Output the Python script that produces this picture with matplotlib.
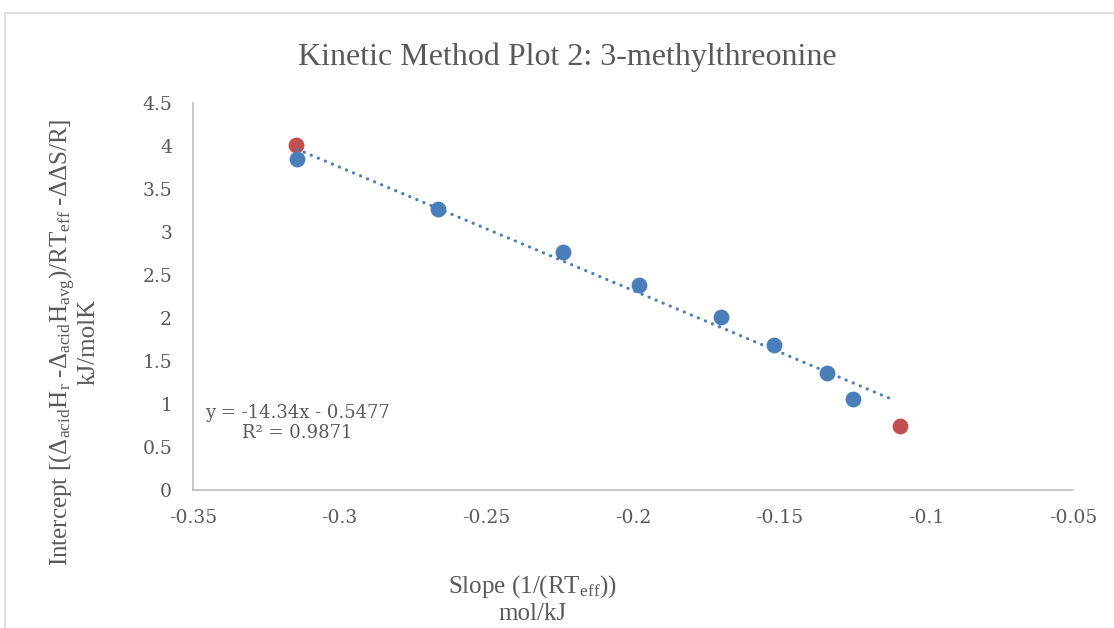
import numpy as np
import matplotlib.pyplot as plt
from matplotlib.patches import Rectangle

plt.rcParams['font.family'] = ['Liberation Serif', 'DejaVu Serif']
plt.rcParams['mathtext.fontset'] = 'custom'
plt.rcParams['mathtext.rm'] = 'Liberation Serif'
plt.rcParams['mathtext.it'] = 'Liberation Serif:italic'

# slope (1/RT_eff) and intercept values for each reference acid
slope_fit = [-0.3145, -0.2665, -0.224, -0.198, -0.170, -0.152, -0.134, -0.125]
intercept_fit = [3.85, 3.27, 2.77, 2.38, 2.01, 1.69, 1.36, 1.06]
slope_out = [-0.315, -0.109]
intercept_out = [4.01, 0.74]

# linear trendline coefficients
m, b = -14.34, -0.5477
r2 = 0.9871
trend_x = [-0.3145, -0.1113]

grey = '#595959'
fig = plt.figure(figsize=(11.14, 6.28), dpi=100)
fig.patches.append(Rectangle((5 / 1114, -0.1), 1.2, 1 - 13 / 628 + 0.1,
                             transform=fig.transFigure, fill=False,
                             edgecolor='#d9d9d9', linewidth=1.2))

ax = fig.add_axes([193 / 1114, 1 - 490 / 628, 880 / 1114, 387 / 628])

ax.scatter(slope_out, intercept_out, s=130, color='#c0504d', zorder=2, linewidths=0)
ax.scatter(slope_fit, intercept_fit, s=130, color='#4a7ebb', zorder=3, linewidths=0)
tx = np.array(trend_x)
ax.plot(tx, m * tx + b, color='#4a7ebb', linewidth=2.3, dashes=(0.05, 2.34),
        dash_capstyle='round', zorder=4)

ax.set_xlim(-0.35, -0.05)
ax.set_ylim(0, 4.5)
ax.set_xticks(np.arange(-0.35, -0.049, 0.05))
ax.set_xticklabels(['-0.35', '-0.3', '-0.25', '-0.2', '-0.15', '-0.1', '-0.05'],
                   family='DejaVu Serif')
ax.set_yticks(np.arange(0, 4.51, 0.5))
ax.set_yticklabels(['0', '0.5', '1', '1.5', '2', '2.5', '3', '3.5', '4', '4.5'],
                   family='DejaVu Serif')
ax.tick_params(length=0, labelsize=13.5, colors=grey)
ax.tick_params(axis='y', pad=15)
ax.tick_params(axis='x', pad=14)
for s in ['top', 'right']:
    ax.spines[s].set_visible(False)
for s in ['left', 'bottom']:
    ax.spines[s].set_color('#bfbfbf')
    ax.spines[s].set_linewidth(1.2)

fig.text(567 / 1114, 1 - 57 / 628, 'Kinetic Method Plot 2: 3-methylthreonine',
         ha='center', va='center', fontsize=23, color=grey)

fig.text(74 / 1114, 1 - 342 / 628,
         r'Intercept [($\Delta_{\mathrm{acid}}$H$_{\mathrm{r}}$ -$\Delta_{\mathrm{acid}}$H$_{\mathrm{avg}}$)/RT$_{\mathrm{eff}}$ -ΔΔS/R]'
         '\nkJ/molK',
         rotation=90, ha='center', va='center', fontsize=18, color=grey,
         multialignment='center', linespacing=1.0)

fig.text(533 / 1114, 1 - 599 / 628, 'Slope (1/(RT$_{\\mathrm{eff}}$))\nmol/kJ',
         ha='center', va='center', fontsize=18, color=grey,
         multialignment='center', linespacing=1.15)

fig.text(297 / 1114, 1 - 423 / 628,
         'y = %.2fx - %.4f\nR² = %.4f' % (m, -b, r2),
         ha='center', va='center', fontsize=13, color=grey,
         family='DejaVu Serif', multialignment='center', linespacing=1.2)

fig.savefig('out.png', dpi=100)
